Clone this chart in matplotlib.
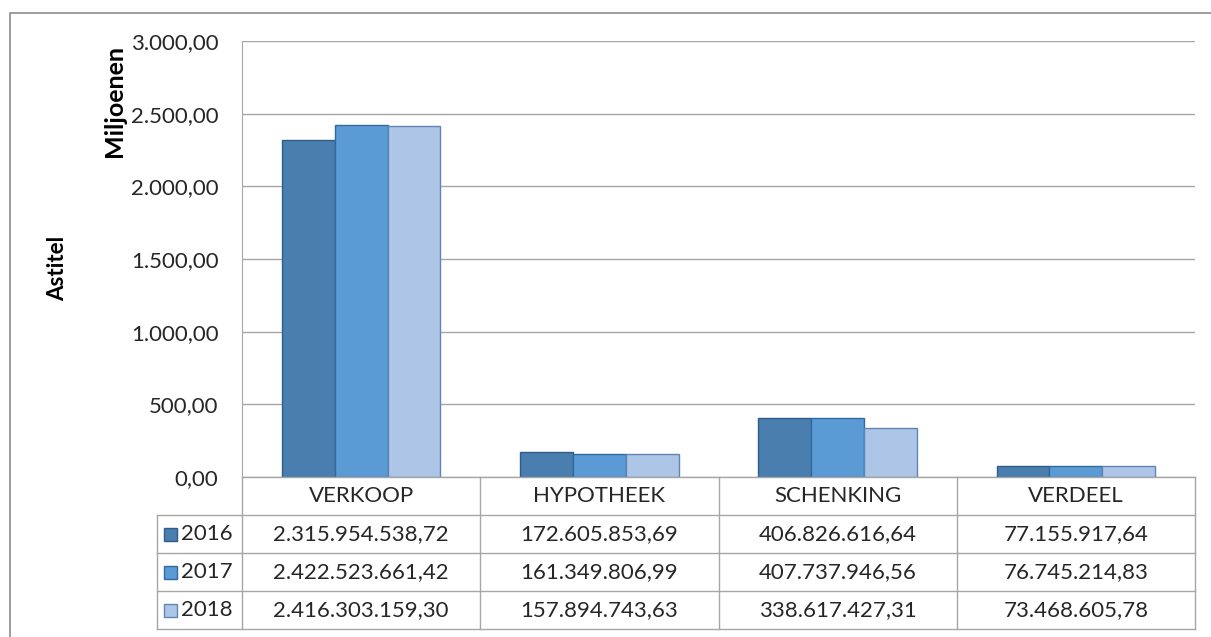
import numpy as np
import matplotlib.pyplot as plt
from matplotlib.patches import Rectangle

plt.rcParams['font.family'] = ['Lato', 'DejaVu Sans']

categories = ["VERKOOP", "HYPOTHEEK", "SCHENKING", "VERDEEL"]
years = ["2016", "2017", "2018"]
values = {
    "2016": [2315954538.72, 172605853.69, 406826616.64, 77155917.64],
    "2017": [2422523661.42, 161349806.99, 407737946.56, 76745214.83],
    "2018": [2416303159.30, 157894743.63, 338617427.31, 73468605.78],
}
colors = {"2016": "#4a7eae", "2017": "#5b9bd5", "2018": "#adc5e6"}
edges = {"2016": "#2f5d87", "2017": "#2f6aa0", "2018": "#5f86b3"}
yticks = [0, 500, 1000, 1500, 2000, 2500, 3000]


def nl(v):
    # dutch number format
    return f"{v:,.2f}".replace(",", "X").replace(".", ",").replace("X", ".")


W, H = 1211, 637
fig = plt.figure(figsize=(W / 100, H / 100), dpi=100)
fs = 16
tc = "#262626"

# plot area in pixels
L, R, T, B = 242, 1195, 41, 477
ax = fig.add_axes([L / W, 1 - B / H, (R - L) / W, (B - T) / H])
x = np.arange(len(categories))
bw = 0.222
for i, yr in enumerate(years):
    ax.bar(x + (i - 1) * bw, np.array(values[yr]) / 1e6, bw, color=colors[yr],
           edgecolor=edges[yr], linewidth=1, zorder=3)
ax.set_xlim(-0.5, len(categories) - 0.5)
ax.set_ylim(0, 3000)
ax.set_yticks(yticks)
ax.set_yticklabels([nl(t) for t in yticks], fontsize=fs, color=tc)
ax.tick_params(axis="y", length=0, pad=17)
ax.set_xticks([])
ax.grid(axis="y", color="#a6a6a6", linewidth=1, zorder=0)
for s in ["top", "right", "bottom"]:
    ax.spines[s].set_visible(False)
ax.spines["left"].set_color("#a6a6a6")

# overlay in pixel coords for table and frame
ov = fig.add_axes([0, 0, 1, 1], zorder=5)
ov.set_xlim(0, W)
ov.set_ylim(H, 0)
ov.axis("off")
ov.patch.set_alpha(0)

gc = "#a6a6a6"
# outer frame
ov.plot([10, 10, W], [H, 13, 13], color="#8c8c8c", lw=1.2)

cols = [L + (R - L) / 4 * k for k in range(5)]
rows = [477, 515, 553, 591, 629]
ov.plot([L, R], [477, 477], color=gc, lw=1)
for r in rows[1:]:
    ov.plot([157, R], [r, r], color=gc, lw=1)
for c in cols:
    ov.plot([c, c], [477, 629], color=gc, lw=1)
ov.plot([157, 157], [515, 629], color=gc, lw=1)

for k, cat in enumerate(categories):
    ov.text((cols[k] + cols[k + 1]) / 2, 496, cat, ha="center", va="center",
            fontsize=fs, color=tc)
for j, yr in enumerate(years):
    yc = (rows[j + 1] + rows[j + 2]) / 2
    ov.add_patch(Rectangle((164, yc - 6.5), 13, 13, facecolor=colors[yr],
                           edgecolor=edges[yr], lw=1))
    ov.text(181, yc, yr, ha="left", va="center", fontsize=fs, color=tc)
    for k in range(len(categories)):
        ov.text((cols[k] + cols[k + 1]) / 2, yc, nl(values[yr][k]),
                ha="center", va="center", fontsize=fs, color=tc)

ov.text(114, 101, "Miljoenen", rotation=90, ha="center", va="center",
        fontsize=18, fontweight="bold", color="#000000")
ov.text(58, 268, "Astitel", rotation=90, ha="center", va="center",
        fontsize=16, fontweight="bold", color="#000000")

fig.savefig("out.png", dpi=100)
